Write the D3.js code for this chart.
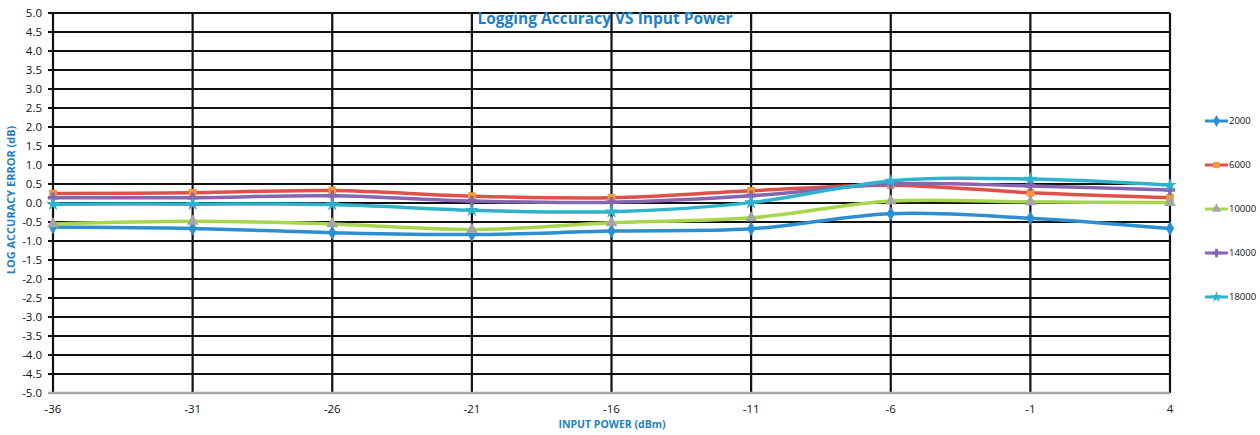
<!DOCTYPE html>
<html><head><meta charset="utf-8">
<script src="https://cdn.jsdelivr.net/npm/d3@7"></script>
<style>body{margin:0;background:#fff}svg{display:block}</style>
</head><body><svg id="c" width="1260" height="435"></svg>
<script>
const inputPower = [-36,-31,-26,-21,-16,-11,-6,-1,4];
const yTicks = [-5,-4.5,-4,-3.5,-3,-2.5,-2,-1.5,-1,-0.5,0,0.5,1,1.5,2,2.5,3,3.5,4,4.5,5];
const seriesNames = ["2000","6000","10000","14000","18000"];
const s2000  = [-0.63,-0.67,-0.78,-0.83,-0.74,-0.68,-0.28,-0.40,-0.67];
const s6000  = [0.25,0.27,0.33,0.18,0.14,0.32,0.47,0.27,0.14];
const s10000 = [-0.55,-0.48,-0.55,-0.70,-0.52,-0.39,0.05,0.03,0.01];
const s14000 = [0.14,0.14,0.19,0.05,0.02,0.19,0.50,0.45,0.34];
const s18000 = [-0.03,-0.03,-0.04,-0.19,-0.23,0.01,0.58,0.63,0.47];
const seriesValues = [s2000,s6000,s10000,s14000,s18000];
const lineColors = ["#2b8fd2","#e0504a","#a8d64c","#8566b0","#2fb2cc"];
const markerColors = ["#2b8fd2","#f3983a","#a5a5a5","#8566b0","#2fb2cc"];
const markerShapes = [d3.symbolDiamond,d3.symbolSquare,d3.symbolTriangle,d3.symbolCross,d3.symbolStar];

const svg = d3.select("#c");
const L=53,R=1170,T=13,B=393;
const x = d3.scaleLinear().domain([-36,4]).range([L,R]);
const y = d3.scaleLinear().domain([-5,5]).range([B,T]);
const font = "'Open Sans', 'Liberation Sans', sans-serif";
const blue = "#1e7fc8";

svg.append("g").selectAll("line").data(yTicks.filter(v=>v>-5)).join("line")
  .attr("x1",L-5).attr("x2",R).attr("y1",d=>y(d)).attr("y2",d=>y(d))
  .attr("stroke","#111").attr("stroke-width",2.2);
svg.append("g").selectAll("line").data(inputPower).join("line")
  .attr("x1",d=>x(d)).attr("x2",d=>x(d)).attr("y1",T).attr("y2",B)
  .attr("stroke","#111").attr("stroke-width",2.2);
svg.append("line").attr("x1",L-5).attr("x2",R).attr("y1",B).attr("y2",B)
  .attr("stroke","#a8a8a8").attr("stroke-width",2.5);

svg.append("g").selectAll("text").data(yTicks).join("text")
  .attr("x",42).attr("y",d=>y(d)).attr("dy","0.35em").attr("text-anchor","end")
  .attr("font-family",font).attr("font-size",11.5).attr("fill","#111")
  .text(d=>d3.format(".1f")(d).replace("−","-"));
svg.append("g").selectAll("text").data(inputPower).join("text")
  .attr("x",d=>x(d)).attr("y",413).attr("text-anchor","middle")
  .attr("font-family",font).attr("font-size",11.5).attr("fill","#111")
  .text(d=>String(d));

svg.append("text").attr("x",605).attr("y",24).attr("text-anchor","middle")
  .attr("font-family",font).attr("font-weight","bold").attr("font-size",15.5)
  .attr("fill",blue).text("Logging Accuracy VS Input Power");
svg.append("text").attr("transform","translate(15,200) rotate(-90)").attr("text-anchor","middle")
  .attr("font-family",font).attr("font-weight","bold").attr("font-size",11)
  .attr("fill",blue).text("LOG ACCURACY ERROR (dB)");
svg.append("text").attr("x",612).attr("y",428).attr("text-anchor","middle")
  .attr("font-family",font).attr("font-weight","bold").attr("font-size",10.5)
  .attr("fill",blue).text("INPUT POWER (dBm)");

const line = d3.line().x((d,i)=>x(inputPower[i])).y(d=>y(d)).curve(d3.curveCatmullRom.alpha(0.5));
seriesValues.forEach((vals,k)=>{
  const g = svg.append("g");
  g.append("path").attr("d",line(vals)).attr("fill","none")
    .attr("stroke",lineColors[k]).attr("stroke-width",3.5);
  g.selectAll("path.m").data(vals).join("path").attr("class","m")
    .attr("transform",(d,i)=>`translate(${x(inputPower[i])},${y(d)})`)
    .attr("d",d3.symbol().type(markerShapes[k]).size(60))
    .attr("fill",markerColors[k]);
});

const lg = svg.append("g");
seriesNames.forEach((n,k)=>{
  const yy = 121 + k*44;
  lg.append("line").attr("x1",1205).attr("x2",1228).attr("y1",yy).attr("y2",yy)
    .attr("stroke",lineColors[k]).attr("stroke-width",3);
  lg.append("path").attr("transform",`translate(1216.5,${yy})`)
    .attr("d",d3.symbol().type(markerShapes[k]).size(40)).attr("fill",markerColors[k]);
  lg.append("text").attr("x",1229).attr("y",yy).attr("dy","0.35em")
    .attr("font-family",font).attr("font-size",9.5).attr("fill","#111").text(n);
});
</script></body></html>
